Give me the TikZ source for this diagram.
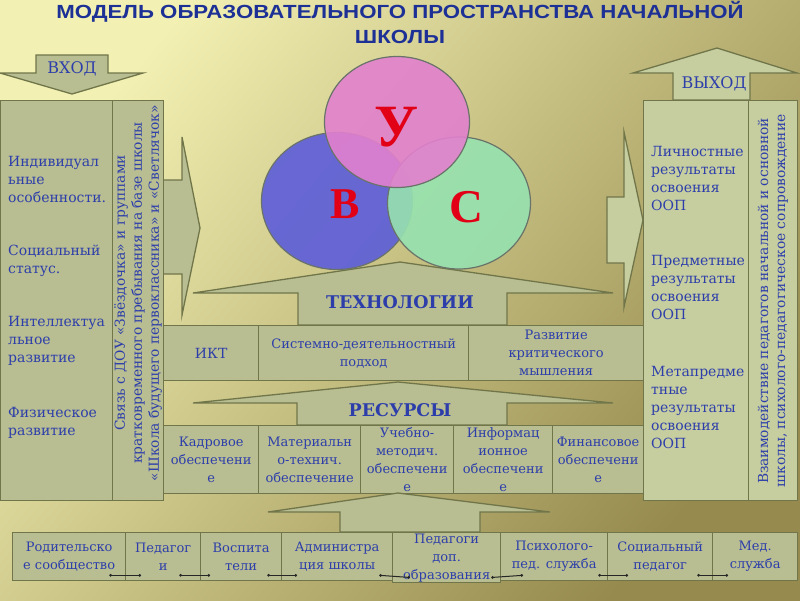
\documentclass[tikz,border=0pt]{standalone}
\usepackage{fontspec}
\setmainfont{DejaVu Serif}
\newfontfamily\titlefont{Liberation Sans}
\newfontfamily\bigserif{Liberation Serif}
\usetikzlibrary{shapes.geometric,arrows.meta}
\definecolor{bgA}{RGB}{242,240,178}
\definecolor{bgB}{RGB}{198,190,118}
\definecolor{bgC}{RGB}{150,138,78}
\definecolor{boxf}{RGB}{184,190,146}
\definecolor{outf}{RGB}{198,206,160}
\definecolor{bord}{RGB}{112,118,74}
\definecolor{txt}{RGB}{45,62,170}
\definecolor{ttl}{RGB}{28,48,150}
\definecolor{redl}{RGB}{226,0,22}
\definecolor{cpink}{RGB}{226,128,206}
\definecolor{cblue}{RGB}{92,92,218}
\definecolor{cgreen}{RGB}{150,226,176}
\definecolor{cline}{RGB}{105,115,105}
\tikzset{
  box/.style={draw=bord, fill=boxf, line width=1.3pt, inner sep=1pt, anchor=north west,
    text=txt, align=center, font=\fontsize{13}{18}\selectfont},
  obox/.style={box, fill=outf},
  arrshape/.style={draw=bord, fill=boxf, line width=1.3pt, line join=miter},
  lbl/.style={text=txt, align=left, inner sep=0pt, font=\fontsize{14}{18}\selectfont},
  vlbl/.style={text=txt, align=center, inner sep=0pt, rotate=90, font=\fontsize{13.8}{17}\selectfont},
  albl/.style={text=txt, inner sep=0pt, font=\fontsize{16}{18}\selectfont},
  hlbl/.style={text=txt, inner sep=0pt, font=\bfseries\fontsize{17.5}{20}\selectfont},
  circ/.style={ellipse, draw=cline, line width=1.2pt, fill opacity=0.9, draw opacity=1},
  letter/.style={text=redl, inner sep=0pt, font=\bigserif\bfseries},
  link/.style={draw=black!85, line width=1pt, {Circle[length=2.6pt]}-{Circle[length=2.6pt]}}
}
\begin{document}
\begin{tikzpicture}[x=1pt,y=-1pt]
\useasboundingbox (0,0) rectangle (800,600);
\shade[top color=bgA, middle color=bgB, bottom color=bgC, shading angle=50] (0,0) rectangle (800,600);

% title
\node[text=ttl, align=center, inner sep=0pt, font=\titlefont\bfseries\fontsize{19}{25}\selectfont] (title) at (400,22)
  {\scalebox{1.17}[1]{МОДЕЛЬ ОБРАЗОВАТЕЛЬНОГО ПРОСТРАНСТВА НАЧАЛЬНОЙ}\\\scalebox{1.17}[1]{ШКОЛЫ}};

% input arrow
\draw[arrshape] (36,55) -- (108,55) -- (108,73) -- (143,73) -- (72,94) -- (0,73) -- (36,73) -- cycle;
\node[albl] (vhod) at (72,69) {ВХОД};

% output arrow
\draw[arrshape, fill=outf] (673,100) -- (673,73) -- (633,73) -- (717,48) -- (797,73) -- (750,73) -- (750,100) -- cycle;
\node[albl] (vyhod) at (714,84) {ВЫХОД};

% left -> arrow
\draw[arrshape] (163,180) -- (182,180) -- (182,137) -- (200,228) -- (182,315) -- (182,274) -- (163,274) -- cycle;
% right -> arrow
\draw[arrshape, fill=outf] (607,197) -- (624,197) -- (624,132) -- (643,220) -- (624,307) -- (624,263) -- (607,263) -- cycle;

% technology arrow (behind circles)
\draw[arrshape] (298,325) -- (298,293) -- (193,293) -- (400,262) -- (613,293) -- (507,293) -- (507,325) -- cycle;

% circles
\node[circ, fill=cblue, minimum width=151pt, minimum height=137pt] (cB) at (337,201) {};
\node[circ, fill=cgreen, minimum width=143pt, minimum height=132pt] (cC) at (459,203) {};
\node[circ, fill=cpink, minimum width=145pt, minimum height=131pt] (cU) at (397,122) {};
\node[letter, font=\bigserif\bfseries\fontsize{60}{60}\selectfont] (lU) at (397,127) {У};
\node[letter, font=\bigserif\bfseries\fontsize{44}{44}\selectfont] (lB) at (345,204) {В};
\node[letter, font=\bigserif\bfseries\fontsize{47}{47}\selectfont] (lC) at (466,207) {С};

\node[hlbl] (tech) at (400,302) {ТЕХНОЛОГИИ};

% left column
\node[box, minimum width=112pt, minimum height=400pt] (in1) at (0,100) {};
\node[box, minimum width=51pt, minimum height=400pt] (in2) at (112,100) {};
\node[lbl, anchor=west] (i1) at (8,179) {Индивидуал\\ьные\\особенности.};
\node[lbl, anchor=west] (i2) at (8,261) {Социальный\\статус.};
\node[lbl, anchor=west] (i3) at (8,341) {Интеллектуа\\льное\\развитие};
\node[lbl, anchor=west] (i4) at (8,423) {Физическое\\развитие};
\node[vlbl] (iv) at (138,293) {Связь с ДОУ «Звёздочка» и группами\\кратковременного пребывания на базе школы\\«Школа будущего первоклассника» и «Светлячок»};

% right column
\node[obox, minimum width=105pt, minimum height=400pt] (out1) at (643,100) {};
\node[obox, minimum width=49pt, minimum height=400pt] (out2) at (748,100) {};
\node[lbl, anchor=west] (o1) at (651,178) {Личностные\\результаты\\освоения\\ООП};
\node[lbl, anchor=west] (o2) at (651,287) {Предметные\\результаты\\освоения\\ООП};
\node[lbl, anchor=west] (o3) at (651,407) {Метапредме\\тные\\результаты\\освоения\\ООП};
\node[vlbl] (ov) at (773,301) {Взаимодействие педагогов начальной и основной\\школы, психолого-педагогическое сопровождение};

% technology row
\node[box, minimum width=95pt, minimum height=55pt, font=\fontsize{14}{18}\selectfont] (t1) at (163,325) {ИКТ};
\node[box, minimum width=210pt, minimum height=55pt] (t2) at (258,325) {Системно-деятельностный\\подход};
\node[box, minimum width=175pt, minimum height=55pt] (t3) at (468,325) {Развитие\\критического\\мышления};

% resources arrow
\draw[arrshape] (297,425) -- (297,403) -- (193,403) -- (398,382) -- (613,403) -- (507,403) -- (507,425) -- cycle;
\node[hlbl] (res) at (400,410) {РЕСУРСЫ};

% resources row
\node[box, minimum width=95pt, minimum height=68pt] (r1) at (163,425) {Кадровое\\обеспечени\\е};
\node[box, minimum width=102pt, minimum height=68pt] (r2) at (258,425) {Материальн\\о-технич.\\обеспечение};
\node[box, minimum width=93pt, minimum height=68pt] (r3) at (360,425) {Учебно-\\методич.\\обеспечени\\е};
\node[box, minimum width=99pt, minimum height=68pt] (r4) at (453,425) {Информац\\ионное\\обеспечени\\е};
\node[box, minimum width=91pt, minimum height=68pt] (r5) at (552,425) {Финансовое\\обеспечени\\е};

% bottom arrow
\draw[arrshape] (340,532) -- (340,512) -- (268,512) -- (398,493) -- (550,512) -- (480,512) -- (480,532) -- cycle;

% bottom row
\node[box, minimum width=113pt, minimum height=48pt] (b1) at (12,532) {Родительско\\е сообщество};
\node[box, minimum width=75pt, minimum height=48pt] (b2) at (125,532) {Педагог\\и};
\node[box, minimum width=81pt, minimum height=48pt] (b3) at (200,532) {Воспита\\тели};
\node[box, minimum width=111pt, minimum height=48pt] (b4) at (281,532) {Администра\\ция школы};
\node[box, minimum width=108pt, minimum height=48pt] (b5) at (392,532) {Педагоги\\доп.\\образования};
\node[box, minimum width=107pt, minimum height=48pt] (b6) at (500,532) {Психолого-\\пед. служба};
\node[box, minimum width=105pt, minimum height=48pt] (b7) at (607,532) {Социальный\\педагог};
\node[box, minimum width=85pt, minimum height=48pt] (b8) at (712,532) {Мед.\\служба};

% links
\draw[link] ([xshift=-17pt,yshift=6pt]b1.south east) -- ([xshift=16pt,yshift=6pt]b2.south west);
\draw[link] ([xshift=-22pt,yshift=6pt]b2.south east) -- ([xshift=10pt,yshift=6pt]b3.south west);
\draw[link] ([xshift=-15pt,yshift=6pt]b3.south east) -- ([xshift=16pt,yshift=6pt]b4.south west);
\draw[link] ([xshift=-14pt,yshift=6pt]b4.south east) -- ([xshift=18pt,yshift=6pt]b5.south west);
\draw[link] ([xshift=-10pt,yshift=6pt]b5.south east) -- ([xshift=23pt,yshift=6pt]b6.south west);
\draw[link] ([xshift=-10pt,yshift=6pt]b6.south east) -- ([xshift=21pt,yshift=6pt]b7.south west);
\draw[link] ([xshift=-16pt,yshift=6pt]b7.south east) -- ([xshift=16pt,yshift=6pt]b8.south west);
\end{tikzpicture}
\end{document}
